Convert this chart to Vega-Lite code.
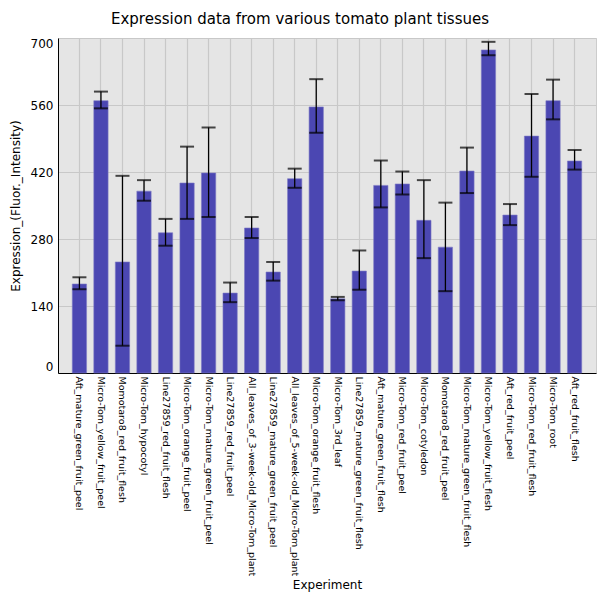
{
  "$schema": "https://vega.github.io/schema/vega-lite/v6.json",
  "autosize": "none",
  "padding": {"left": 58, "top": 38, "right": 4, "bottom": 228},
  "width": 538,
  "height": 335,
  "background": "white",
  "title": {"text": "Expression data from various tomato plant tissues", "font": "DejaVu Sans", "fontSize": 15, "fontWeight": "normal", "color": "#000", "anchor": "middle", "frame": "group", "dx": -27, "offset": 10},
  "config": {
    "font": "DejaVu Sans",
    "view": {"fill": "#e5e5e5", "stroke": "#cccccc", "strokeWidth": 1},
    "axis": {"domainColor": "#000", "gridColor": "#c8c8c8", "gridWidth": 1.2, "labelColor": "#000", "titleColor": "#000", "titleFontWeight": "normal", "labelFont": "DejaVu Sans", "titleFont": "DejaVu Sans"}
  },
  "data": {"values": [
    {"Experiment": "Aft_mature_green_fruit_peel", "mean": 186, "lower": 175, "upper": 200},
    {"Experiment": "Micro-Tom_yellow_fruit_peel", "mean": 569, "lower": 553, "upper": 588},
    {"Experiment": "Momotaro8_red_fruit_flesh", "mean": 232, "lower": 57, "upper": 412},
    {"Experiment": "Micro-Tom_hypocotyl", "mean": 380, "lower": 360, "upper": 403},
    {"Experiment": "Line27859_red_fruit_flesh", "mean": 293, "lower": 266, "upper": 322},
    {"Experiment": "Micro-Tom_orange_fruit_peel", "mean": 397, "lower": 322, "upper": 473},
    {"Experiment": "Micro-Tom_mature_green_fruit_peel", "mean": 418, "lower": 326, "upper": 513},
    {"Experiment": "Line27859_red_fruit_peel", "mean": 167, "lower": 148, "upper": 189},
    {"Experiment": "All_leaves_of_3-week-old_Micro-Tom_plant", "mean": 303, "lower": 282, "upper": 326},
    {"Experiment": "Line27859_mature_green_fruit_peel", "mean": 211, "lower": 193, "upper": 232},
    {"Experiment": "All_leaves_of_5-week-old_Micro-Tom_plant", "mean": 406, "lower": 387, "upper": 427},
    {"Experiment": "Micro-Tom_orange_fruit_flesh", "mean": 556, "lower": 502, "upper": 614},
    {"Experiment": "Micro-Tom_3rd_leaf", "mean": 155, "lower": 152, "upper": 159},
    {"Experiment": "Line27859_mature_green_fruit_flesh", "mean": 213, "lower": 174, "upper": 256},
    {"Experiment": "Aft_mature_green_fruit_flesh", "mean": 392, "lower": 346, "upper": 444},
    {"Experiment": "Micro-Tom_red_fruit_peel", "mean": 395, "lower": 373, "upper": 421},
    {"Experiment": "Micro-Tom_cotyledon", "mean": 319, "lower": 240, "upper": 403},
    {"Experiment": "Momotaro8_red_fruit_peel", "mean": 263, "lower": 171, "upper": 356},
    {"Experiment": "Micro-Tom_mature_green_fruit_flesh", "mean": 422, "lower": 376, "upper": 471},
    {"Experiment": "Micro-Tom_yellow_fruit_flesh", "mean": 675, "lower": 664, "upper": 692},
    {"Experiment": "Aft_red_fruit_peel", "mean": 330, "lower": 309, "upper": 353},
    {"Experiment": "Micro-Tom_red_fruit_flesh", "mean": 495, "lower": 410, "upper": 583},
    {"Experiment": "Micro-Tom_root", "mean": 569, "lower": 530, "upper": 613},
    {"Experiment": "Aft_red_fruit_flesh", "mean": 443, "lower": 425, "upper": 466}
  ]},
  "encoding": {
    "x": {"field": "Experiment", "type": "nominal", "sort": null,
      "scale": {"paddingInner": 0.336, "paddingOuter": 0.663},
      "axis": {"title": "Experiment", "titleFontSize": 12, "titlePadding": 6, "labelAngle": 90, "labelFontSize": 9.5, "labelPadding": 3, "ticks": false, "grid": true, "bandPosition": 0.5, "labelLimit": 0}}
  },
  "layer": [
    {"mark": {"type": "bar", "color": "#4b47b2", "stroke": "#7d7ac4", "strokeWidth": 0.6},
     "encoding": {"y": {"field": "mean", "type": "quantitative", "scale": {"domain": [0, 700], "nice": false},
       "axis": {"title": "Expression_(Fluor._Intensity)", "titleFontSize": 12, "titlePadding": 8, "values": [0, 140, 280, 420, 560, 700], "labelFontSize": 12, "labelFlush": true, "ticks": false, "labelPadding": 5}}}},
    {"mark": {"type": "rule", "color": "#000", "strokeWidth": 1.3},
     "encoding": {"y": {"field": "lower", "type": "quantitative"}, "y2": {"field": "upper"}}},
    {"mark": {"type": "tick", "color": "#000", "thickness": 2, "size": 14},
     "encoding": {"y": {"field": "lower", "type": "quantitative"}}},
    {"mark": {"type": "tick", "color": "#000", "thickness": 2, "size": 14},
     "encoding": {"y": {"field": "upper", "type": "quantitative"}}}
  ]
}
